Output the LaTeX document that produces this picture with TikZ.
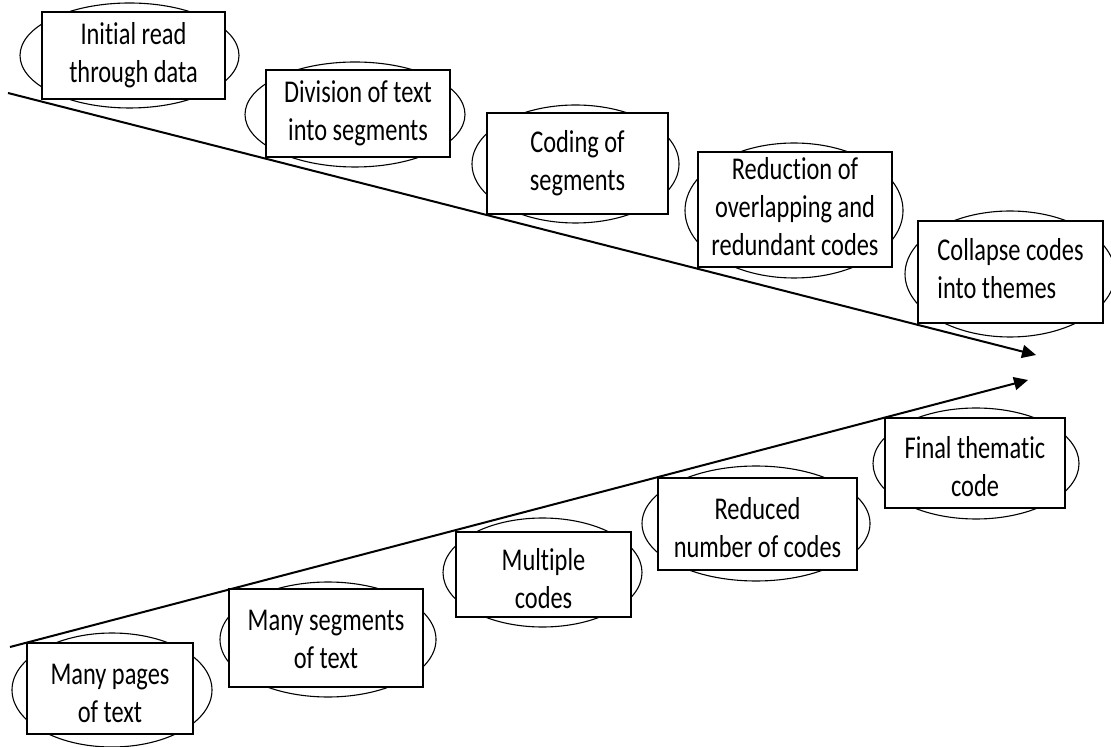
\documentclass[tikz,border=0pt]{standalone}
\usepackage{fontspec}
\setmainfont{Carlito}[Ligatures=NoCommon]
\usepackage{graphicx}
\usetikzlibrary{arrows.meta}

% text in the boxes is set a little taller than wide
\newcommand{\tallbox}[2][c]{\scalebox{1}[1.3]{\begin{tabular}{@{}#1@{}}#2\end{tabular}}}
% lower row: text sits a bit below the middle of its box
\newcommand{\sunkbox}[2][3.5pt]{\raisebox{-#1}[\height][\depth]{\tallbox{#2}}}

\begin{document}
\begin{tikzpicture}[x=0.5pt, y=-0.5pt,
  box/.style={draw, fill=white, line width=0.7pt, inner sep=0pt,
    font=\fontsize{12.2}{14.6}\selectfont},
  ring/.style={draw, line width=0.55pt},
  flow/.style={line width=1pt, -{Triangle[length=7pt,width=6.5pt]}}]
  \useasboundingbox (0,0) rectangle (1111,747);

  % the two long arrows
  \coordinate (upstart) at (8,93);
  \coordinate (upend) at (1036,355);
  \coordinate (lowstart) at (10,647);
  \coordinate (lowend) at (1028,380);
  \draw[flow] (upstart) -- (upend);
  \draw[flow] (lowstart) -- (lowend);

  % ellipses behind the boxes
  \draw[ring] (129.5,55.5) ellipse [x radius=54.75pt, y radius=26.25pt];
  \draw[ring] (355,114.5) ellipse [x radius=55pt, y radius=26.25pt];
  \draw[ring] (575.5,164) ellipse [x radius=51.75pt, y radius=29.5pt];
  \draw[ring] (794,210.5) ellipse [x radius=54.5pt, y radius=33.75pt];
  \draw[ring] (1010,274) ellipse [x radius=52.5pt, y radius=31.5pt];
  \draw[ring] (112,690) ellipse [x radius=50pt, y radius=28.5pt];
  \draw[ring] (328,639.5) ellipse [x radius=54pt, y radius=28.75pt];
  \draw[ring] (542.5,572.5) ellipse [x radius=49.75pt, y radius=27.25pt];
  \draw[ring] (756,523.5) ellipse [x radius=57pt, y radius=28.75pt];
  \draw[ring] (976,463.5) ellipse [x radius=51.5pt, y radius=27.75pt];

  % upper row: the steps
  \node[box, minimum width=91.5pt, minimum height=43.5pt] (read) at (133.5,55.5)
    {\tallbox{Initial read\\through data}};
  \node[box, minimum width=92pt, minimum height=43.5pt] (divide) at (358,113.5)
    {\tallbox{Division of text\\into segments}};
  \node[box, minimum width=90.5pt, minimum height=50.5pt] (coding) at (577.5,163.5)
    {\tallbox{Coding of\\segments}};
  \node[box, minimum width=97pt, minimum height=57.5pt] (reduce) at (795,209.5)
    {\tallbox{Reduction of\\overlapping and\\redundant codes}};
  \node[box, minimum width=92.5pt, minimum height=51pt] (collapse) at (1010.5,272)
    {\tallbox[l]{Collapse codes\\into themes}};

  % lower row: what is left
  \node[box, minimum width=83pt, minimum height=45.5pt] (pages) at (110,688.5)
    {\sunkbox{Many pages\\of text}};
  \node[box, minimum width=97pt, minimum height=49pt] (segments) at (326,638)
    {\sunkbox[1.75pt]{Many segments\\of text}};
  \node[box, minimum width=87.5pt, minimum height=42.5pt] (multiple) at (543.5,574.5)
    {\sunkbox{Multiple\\codes}};
  \node[box, minimum width=99.5pt, minimum height=46pt] (reduced) at (757.5,524)
    {\sunkbox{Reduced\\number of codes}};
  \node[box, minimum width=90pt, minimum height=45pt] (final) at (975,463)
    {\sunkbox{Final thematic\\code}};
\end{tikzpicture}
\end{document}
